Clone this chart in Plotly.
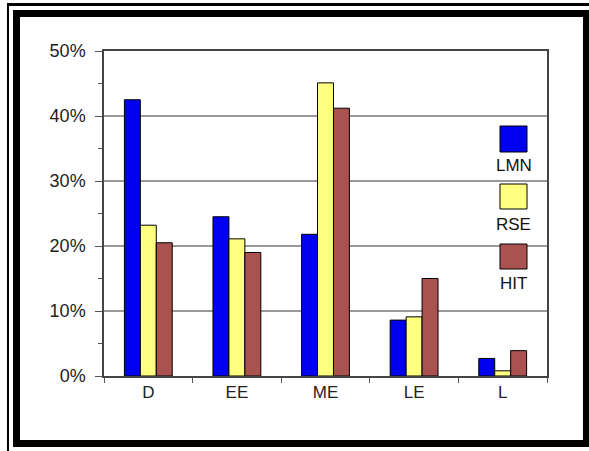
import plotly.graph_objects as go

categories = ["D", "EE", "ME", "LE", "L"]
lmn = [0.425, 0.245, 0.218, 0.086, 0.027]
rse = [0.232, 0.211, 0.451, 0.091, 0.008]
hit = [0.205, 0.190, 0.412, 0.150, 0.039]
series_names = ["LMN", "RSE", "HIT"]
series_colors = ["#0000F0", "#FFFF80", "#A9524F"]
y_ticks = [0, 0.1, 0.2, 0.3, 0.4, 0.5]

W, H = 589, 451
L, R, T, B = 104, 547, 51, 376

fig = go.Figure()
for name, vals, col in zip(series_names, [lmn, rse, hit], series_colors):
    fig.add_trace(go.Bar(x=categories, y=vals, name=name, marker_color=col,
                         marker_line=dict(color="#000000", width=1), showlegend=False))

def px(x):
    return (x - L) / (R - L)

def py(y):
    return (B - y) / (B - T)

shapes = []
def rect(x0, y0, x1, y1, color="#000000"):
    shapes.append(dict(type="rect", xref="paper", yref="paper",
                       x0=px(x0), x1=px(x1), y0=py(y1), y1=py(y0),
                       fillcolor=color, line=dict(width=0), layer="above"))

# outer thin frame
rect(7, 3, 589, 6)
rect(7, 3, 9, 451)
# inner thick frame
rect(13, 10, 589, 17)
rect(13, 10, 20, 447)
rect(583, 10, 589, 447)
rect(13, 440, 589, 447)

# legend (squares above labels)
annotations = []
leg_y = [(126, 152, 165), (184, 209, 224), (244, 269, 283)]
for (y0, y1, ty), name, col in zip(leg_y, series_names, series_colors):
    shapes.append(dict(type="rect", xref="paper", yref="paper",
                       x0=px(500), x1=px(527), y0=py(y1), y1=py(y0),
                       fillcolor=col, line=dict(color="#000000", width=1)))
    annotations.append(dict(xref="paper", yref="paper", x=px(513.5), y=py(ty),
                            text=name, showarrow=False, xanchor="center", yanchor="middle",
                            font=dict(family="Liberation Sans, Arial", size=17, color="#111111")))

fig.update_layout(
    width=W, height=H,
    margin=dict(l=L, r=W - R, t=T, b=H - B, pad=0),
    paper_bgcolor="white", plot_bgcolor="white",
    barmode="group", bargap=0.46, bargroupgap=0,
    shapes=shapes, annotations=annotations,
    font=dict(family="Liberation Sans, Arial", size=17, color="#222222"),
    xaxis=dict(showline=True, linecolor="#444444", linewidth=1.5, mirror=True,
               ticks="outside", ticklen=5, tickcolor="#555555", tickson="boundaries",
               showgrid=False, tickfont=dict(size=17)),
    yaxis=dict(range=[0, 0.5], tickvals=y_ticks, tickformat=".0%",
               showline=True, linecolor="#444444", linewidth=1.5, mirror=True,
               ticks="outside", ticklen=7, tickcolor="#555555",
               minor=dict(tickvals=[0.05, 0.15, 0.25, 0.35, 0.45], ticks="outside", ticklen=4, tickcolor="#555555"),
               showgrid=True, gridcolor="#999999", gridwidth=1.5,
               zeroline=False, ticklabelstandoff=6, tickfont=dict(size=18)),
)

fig.write_html("out.html")
